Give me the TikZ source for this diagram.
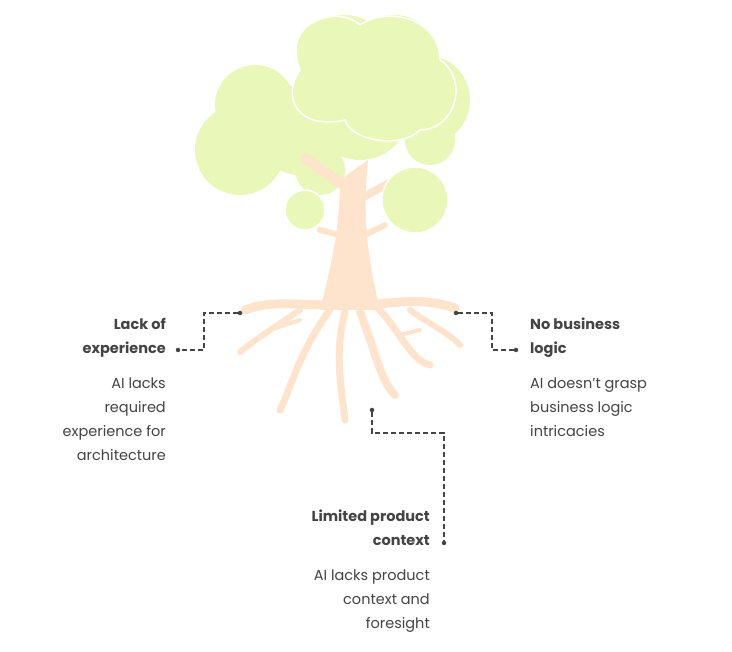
\documentclass[tikz,border=0pt]{standalone}
\usepackage{fontspec}
\setmainfont{Poppins}
\begin{document}
\begin{tikzpicture}[x=1pt,y=-1pt,
  leaf/.style={fill=leafc,draw=white,line width=1.5pt},
  root/.style={draw=trunkc,line cap=round,line width=#1},
  conn/.style={draw=linec,dash pattern=on 5pt off 3pt,line width=1.2pt},
  dotc/.style={circle,fill=linec,inner sep=0pt,minimum size=4.5pt},
  ttl/.style={font=\bfseries\fontsize{14.5}{24}\selectfont,text=textc,inner sep=0pt},
  dsc/.style={font=\fontsize{14.5}{24}\selectfont,text=textc,inner sep=0pt}]
\definecolor{leafc}{HTML}{E9F7B9}
\definecolor{trunkc}{HTML}{FEE3CD}
\definecolor{linec}{HTML}{444444}
\definecolor{textc}{HTML}{444444}
\useasboundingbox[fill=white] (0,0) rectangle (732,652);
% canopy
\foreach \x/\y/\r in {240/150/45, 255/105/40, 300/130/45, 345/60/45, 395/55/40, 425/100/45, 430/140/25, 360/110/50, 320/170/25}
  \fill[leafc] (\x,\y) circle (\r);
% trunk
\fill[trunkc] (340,180) .. controls (340,230) and (330,270) .. (320,310) -- (380,310) .. controls (368,260) and (362,220) .. (368,160) -- cycle;
\draw[root=10pt] (350,190) -- (305,158);
\draw[root=8pt] (358,200) -- (395,180);
\draw[root=6pt] (340,235) -- (320,230);
\draw[root=6pt] (365,235) -- (385,225);
% roots
\draw[root=9pt] (330,305) .. controls (300,305) and (270,300) .. (245,310);
\draw[root=6pt] (300,310) .. controls (270,330) and (255,340) .. (240,352);
\draw[root=7pt] (330,310) .. controls (300,350) and (290,390) .. (280,410);
\draw[root=7pt] (345,312) .. controls (335,350) and (340,380) .. (345,420);
\draw[root=8pt] (360,312) .. controls (375,350) and (380,380) .. (395,395);
\draw[root=7pt] (375,305) .. controls (400,330) and (410,360) .. (430,365);
\draw[root=9pt] (370,305) .. controls (410,300) and (430,300) .. (455,308);
\draw[root=6pt] (410,310) .. controls (430,325) and (445,330) .. (460,345);
\draw[root=4pt] (300,320) -- (270,330);
\draw[root=4pt] (400,335) -- (420,330);
% canopy front blobs with outline
\draw[leaf] (305,210) circle (20);
\draw[leaf] (415,200) circle (33);
\draw[leaf] (300,70) .. controls (280,20) and (340,5) .. (360,25) .. controls (390,5) and (440,20) .. (440,60) .. controls (470,80) and (455,130) .. (420,130) .. controls (400,150) and (350,140) .. (345,120) .. controls (300,130) and (280,100) .. (300,70) -- cycle;
% connectors
\node[dotc] (l1) at (240,313) {};
\node[dotc] (l2) at (178,350) {};
\draw[conn] (l1) -- (204,313) -- (204,350) -- (l2);
\node[dotc] (r1) at (456,313) {};
\node[dotc] (r2) at (516,350) {};
\draw[conn] (r1) -- (492,313) -- (492,350) -- (r2);
\node[dotc] (b1) at (372,410) {};
\node[dotc] (b2) at (444,543) {};
\draw[conn] (b1) -- (372,433) -- (444,433) -- (b2);
% texts
\node[ttl,anchor=north east,align=right] (t1) at (166,318) {Lack of\\experience};
\node[dsc,anchor=north east,align=right] (d1) at (166,378) {AI lacks\\required\\experience for\\architecture};
\node[ttl,anchor=north west,align=left] (t2) at (530,318) {No business\\logic};
\node[dsc,anchor=north west,align=left] (d2) at (530,378) {AI doesn't grasp\\business logic\\intricacies};
\node[ttl,anchor=north east,align=right] (t3) at (430,510) {Limited product\\context};
\node[dsc,anchor=north east,align=right] (d3) at (430,570) {AI lacks product\\context and\\foresight};
\end{tikzpicture}
\end{document}
